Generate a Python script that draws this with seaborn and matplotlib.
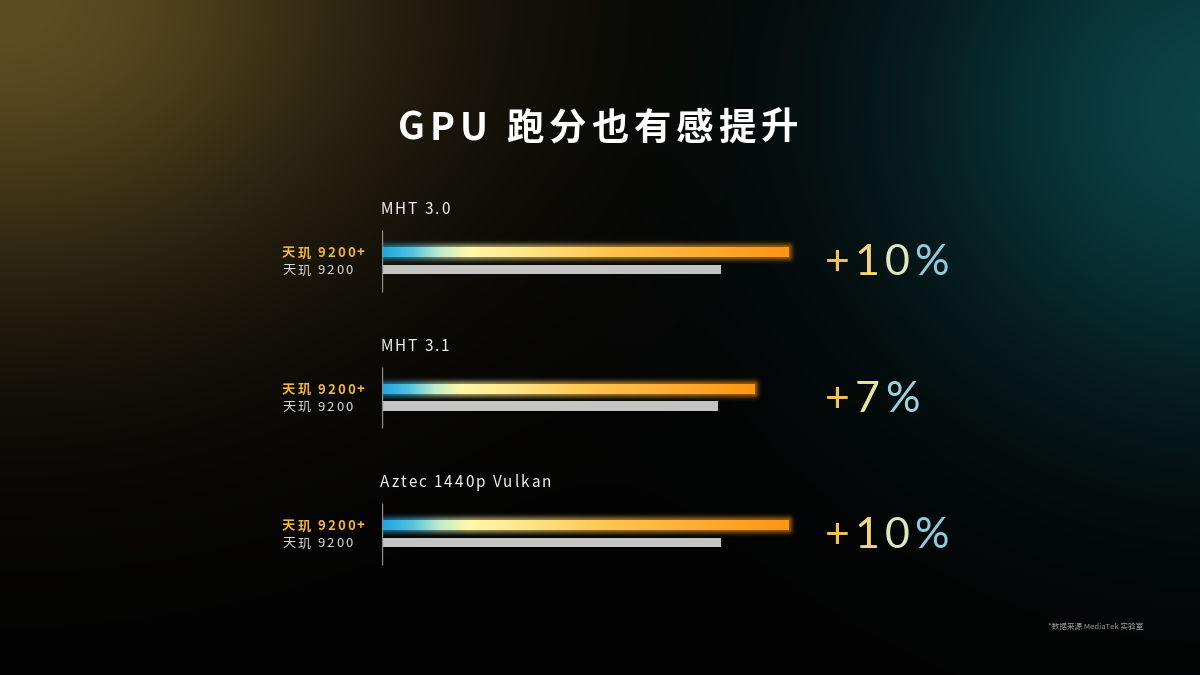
import numpy as np
import pandas as pd
import matplotlib
matplotlib.use("Agg")
import matplotlib.pyplot as plt
import seaborn as sns
from matplotlib.transforms import IdentityTransform
from matplotlib.colors import LinearSegmentedColormap

# ---------------- data ----------------
benchmarks = ["MHT 3.0", "MHT 3.1", "Aztec 1440p Vulkan"]
chips = ["天玑 9200+", "天玑 9200"]
score_9200_plus = [1.20, 1.10, 1.20]   # relative bar length (天玑 9200 MHT 3.0 = 1.0)
score_9200 = [1.00, 0.99, 1.00]
gains = ["+10%", "+7%", "+10%"]
title = "GPU 跑分也有感提升"
footnote = "*数据来源 MediaTek 实验室"

# ---------------- style ----------------
sns.set_theme(style="white")
plt.rcParams["font.family"] = ["Noto Sans CJK SC", "DejaVu Sans"]

W, H = 1200, 675
fig = plt.figure(figsize=(12, 6.75), dpi=100)
fig.patch.set_facecolor("#050505")

# background glow
bg = fig.add_axes([0, 0, 1, 1])
bg.axis("off")
yy, xx = np.mgrid[0:H, 0:W]
base = np.array([0.012, 0.012, 0.012])
gold = np.array([0.36, 0.29, 0.12])
teal = np.array([0.03, 0.25, 0.27])
g = np.exp(-((xx / 400.0) ** 2 + (yy / 300.0) ** 2))
t = np.exp(-(((xx - 1230) / 330.0) ** 2 + ((yy - 110) / 300.0) ** 2))
img = base + g[..., None] * gold + t[..., None] * teal
bg.imshow(np.clip(img, 0, 1), extent=[0, W, H, 0], aspect="auto", interpolation="bilinear")
bg.set_xlim(0, W)
bg.set_ylim(H, 0)

# bar axes: x=0 at px 382, 339 px per unit; category spacing 136.5 px
PX_X = 339.0
PX_Y = 136.5
ax = fig.add_axes([382 / W, 1 - 602.25 / H, 600 / W, 409.5 / H])
ax.set_facecolor("none")

df = pd.DataFrame({
    "benchmark": benchmarks * 2,
    "chip": [chips[0]] * len(benchmarks) + [chips[1]] * len(benchmarks),
    "score": score_9200_plus + score_9200,
})
sns.barplot(data=df, y="benchmark", x="score", hue="chip", order=benchmarks,
            hue_order=chips, palette=["#ffa020", "#c4c4c4"], width=0.25, gap=0.44,
            saturation=1, legend=False, errorbar=None, linewidth=0, ax=ax)

cmap = LinearSegmentedColormap.from_list("bar", [
    (0.0, "#1ea6de"), (0.07, "#52c2e0"), (0.14, "#bfeccc"), (0.21, "#fff8aa"),
    (0.35, "#ffe58a"), (0.55, "#ffc650"), (0.8, "#ffaa30"), (1.0, "#ff9612")])

for bar in ax.containers[0]:
    x0, y0 = bar.get_x(), bar.get_y()
    w, h = bar.get_width(), bar.get_height()
    bar.set_facecolor("none")
    # glow
    pad = 12
    wpx, hpx = w * PX_X, h * PX_Y
    gx = np.linspace(-pad, wpx + pad, 500)
    gy = np.linspace(-pad, hpx + pad, 60)
    dx = np.maximum(0, np.maximum(-gx, gx - wpx))
    dy = np.maximum(0, np.maximum(-gy, gy - hpx))
    d = np.hypot(dx[None, :], dy[:, None])
    frac = np.clip(gx / wpx, 0, 1)
    cols = cmap(frac)[:, :3]
    rgba = np.zeros((len(gy), len(gx), 4))
    rgba[..., :3] = cols[None, :, :]
    rgba[..., 3] = 0.55 * np.exp(-(d / 4.0) ** 2)
    ax.imshow(rgba, extent=[x0 - pad / PX_X, x0 + w + pad / PX_X,
                            y0 + h + pad / PX_Y, y0 - pad / PX_Y],
              aspect="auto", interpolation="bilinear", zorder=2)
    grad = cmap(np.linspace(0, 1, 512))[None, :, :3]
    ax.imshow(grad, extent=[x0, x0 + w, y0 + h, y0], aspect="auto",
              interpolation="bilinear", zorder=3)

for i in range(len(benchmarks)):
    ax.vlines(0, i - 0.227, i + 0.227, color="#8c8c8c", lw=1.0, zorder=4)

ax.set_xlim(0, 600 / PX_X)
ax.set_ylim(len(benchmarks) - 0.5, -0.5)
ax.axis("off")

# ---------------- text helpers ----------------
renderer = fig.canvas.get_renderer()


def measure(s, props):
    tt = fig.text(0, 0, s, transform=IdentityTransform(), **props)
    wdt = tt.get_window_extent(renderer).width
    tt.remove()
    return wdt


def tracked(x, y, s, tracking, ha="left", colors=None, **props):
    ref = measure("H", props)
    lefts = [0.0]
    for i in range(1, len(s)):
        lefts.append(measure(s[:i] + "H", props) - ref + i * tracking)
    total = measure(s, props) + tracking * (len(s) - 1)
    start = x if ha == "left" else (x - total / 2 if ha == "center" else x - total)
    if colors is None:
        colors = [props.pop("color", "white")] * len(s)
    else:
        props.pop("color", None)
    for ch, lx, c in zip(s, lefts, colors):
        if ch == " ":
            continue
        fig.text(start + lx, y, ch, transform=IdentityTransform(), ha="left",
                 va="baseline", color=c, **props)


def px(v):
    return v * 100 / 72.0


CJK = ["Noto Sans CJK SC", "DejaVu Sans"]

# title
tracked(598, H - 140, title, 5, ha="center", fontsize=27, fontweight="bold",
        color="white", family=CJK)

pct_cmap = LinearSegmentedColormap.from_list("pct", [
    (0.0, "#f3b443"), (0.35, "#f7d274"), (0.6, "#e6ecb8"), (0.8, "#a8d8dc"), (1.0, "#62badf")])

off = 0.125 / 2
for i, name in enumerate(benchmarks):
    _, yc = ax.transData.transform((0, i))
    _, y_plus = ax.transData.transform((0, i - off))
    _, y_base = ax.transData.transform((0, i + off))
    # benchmark name
    tracked(380, yc + 53 - 6, name, 2.0, fontsize=11, color="#f2f2f2", family=CJK)
    # chip labels
    tracked(282, y_plus - 0.37 * px(9.5), chips[0], 2.0, fontsize=9.5,
            fontweight="bold", color="#f0b43c", family=CJK)
    tracked(282, y_base - 0.37 * px(9.5), chips[1], 2.0, fontsize=9.5,
            color="#d8d8d8", family=CJK)
    # gain
    s = gains[i]
    n = len(s)
    cols = [pct_cmap((k + 0.5) / n) for k in range(n)]
    tracked(825, yc - 14, s, 5, colors=cols, fontsize=31, fontweight="normal",
            family=["Lato", "DejaVu Sans"])

fig.text(1096, H - 629, footnote, transform=IdentityTransform(), ha="center",
         va="baseline", fontsize=5.5, color="#9a9a9a", family=CJK)

fig.savefig("out.png", dpi=100, facecolor=fig.get_facecolor())
